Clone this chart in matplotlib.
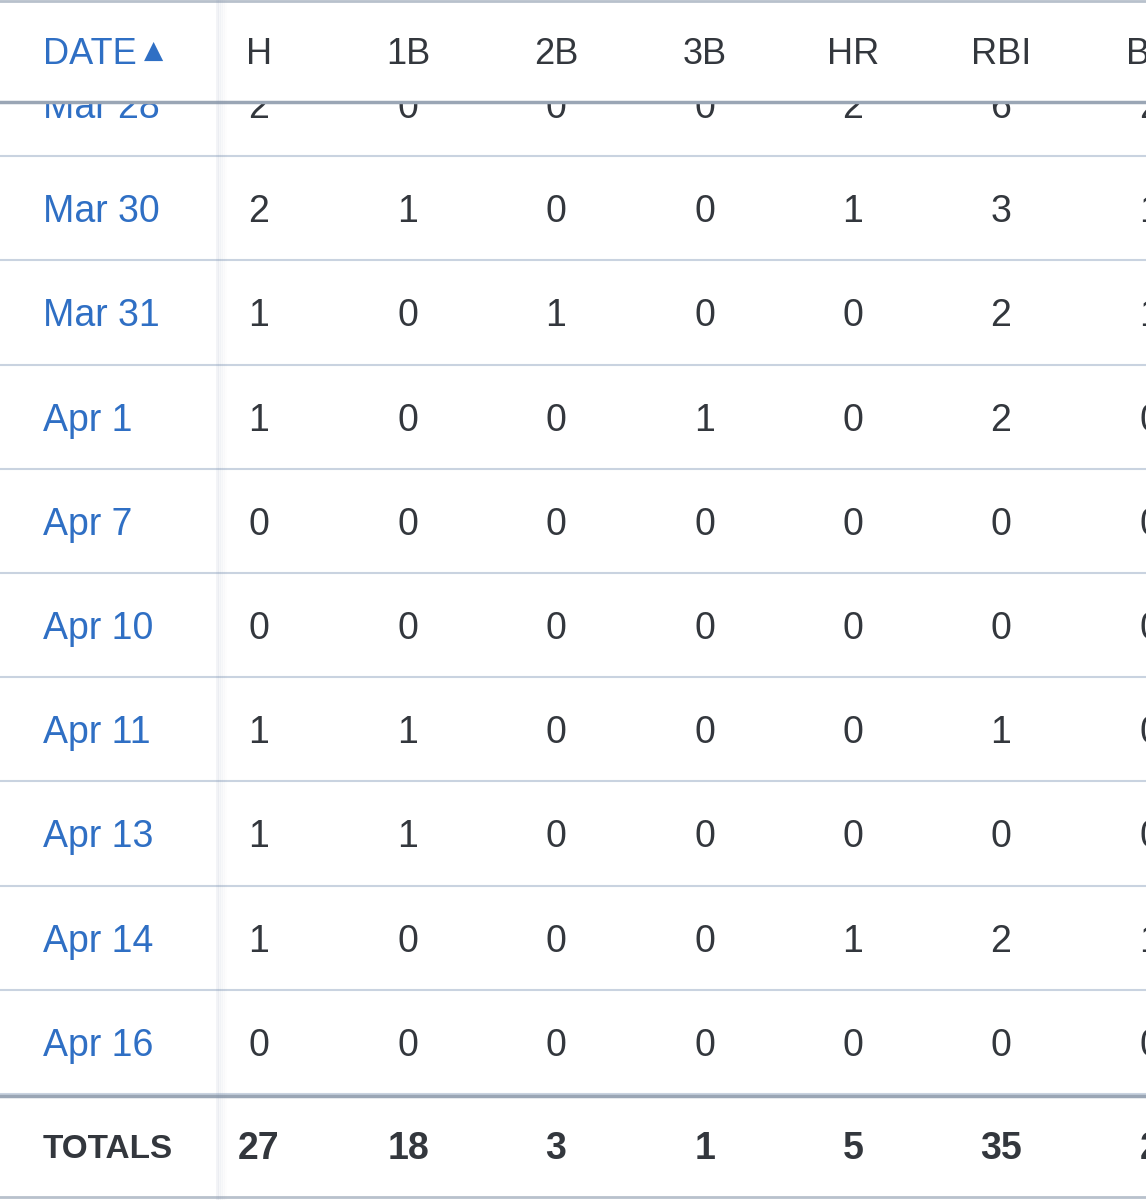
import matplotlib
matplotlib.use("Agg")
import matplotlib.pyplot as plt
from matplotlib.patches import Rectangle

columns = ["H", "1B", "2B", "3B", "HR", "RBI", "BB"]
dates = ["Mar 28", "Mar 30", "Mar 31", "Apr 1", "Apr 7", "Apr 10", "Apr 11", "Apr 13", "Apr 14", "Apr 16"]
H   = [2, 2, 1, 1, 0, 0, 1, 1, 1, 0]
B1  = [0, 1, 0, 0, 0, 0, 1, 1, 0, 0]
B2  = [0, 0, 1, 0, 0, 0, 0, 0, 0, 0]
B3  = [0, 0, 0, 1, 0, 0, 0, 0, 0, 0]
HR  = [2, 1, 0, 0, 0, 0, 0, 0, 1, 0]
RBI = [6, 3, 2, 2, 0, 0, 1, 0, 2, 0]
BB  = [2, 1, 1, 0, 0, 0, 0, 0, 1, 0]
totals = [27, 18, 3, 1, 5, 35, 2]

series = [H, B1, B2, B3, HR, RBI, BB]
col_x = [259, 408, 556, 705, 853, 1001, 1150]
BLUE = "#2f6fc4"
DARK = "#33373d"
LINE = "#c9d3e0"
FONT = "Liberation Sans"

fig = plt.figure(figsize=(11.46, 12), dpi=100)
ax = fig.add_axes([0, 0, 1, 1])
ax.set_xlim(0, 1146)
ax.set_ylim(1200, 0)
ax.axis("off")

fs = 27
row_h = 104.2
first_center = 108
for i, d in enumerate(dates):
    y = first_center + i * row_h
    ax.text(43, y, d, color=BLUE, fontsize=fs, family=FONT, va="center", ha="left", zorder=2)
    for s, x in zip(series, col_x):
        ax.text(x, y, str(s[i]), color=DARK, fontsize=fs, family=FONT, va="center", ha="center", zorder=2)
    ax.axhline(y - 4 + row_h / 2, color=LINE, lw=1.5, zorder=3)

# header panel hides the scrolled first row
ax.add_patch(Rectangle((0, 0), 1146, 102, facecolor="white", edgecolor="none", zorder=6))
ax.text(43, 55, "DATE", color=BLUE, fontsize=26, family=FONT, va="center", ha="left", zorder=7)
ax.text(154, 51, "▲", color=BLUE, fontsize=18, family="DejaVu Sans", va="center", ha="center", zorder=7)
for c, x in zip(columns, col_x):
    ax.text(x, 55, c, color=DARK, fontsize=26, family=FONT, va="center", ha="center", zorder=7)

ax.axhline(1, color="#b8c1cc", lw=2, zorder=8)
ax.axhline(102, color="#9aa6b5", lw=2.5, zorder=8)
ax.axhline(1096, color="#9aa6b5", lw=2.5, zorder=8)
ax.axhline(1197, color="#b8c1cc", lw=2, zorder=8)

# totals
ax.text(43, 1149, "TOTALS", color=DARK, fontsize=24, family=FONT, weight="bold", va="center", ha="left")
for v, x in zip(totals, col_x):
    ax.text(x, 1149, str(v), color=DARK, fontsize=fs, family=FONT, weight="bold", va="center", ha="center")

# vertical separator with soft shadow
for k, a in enumerate([0.10, 0.07, 0.05, 0.03, 0.015]):
    ax.axvline(217 + k * 2, color="#8090b0", alpha=a, lw=2, zorder=9)

fig.savefig("out.png", dpi=100)
